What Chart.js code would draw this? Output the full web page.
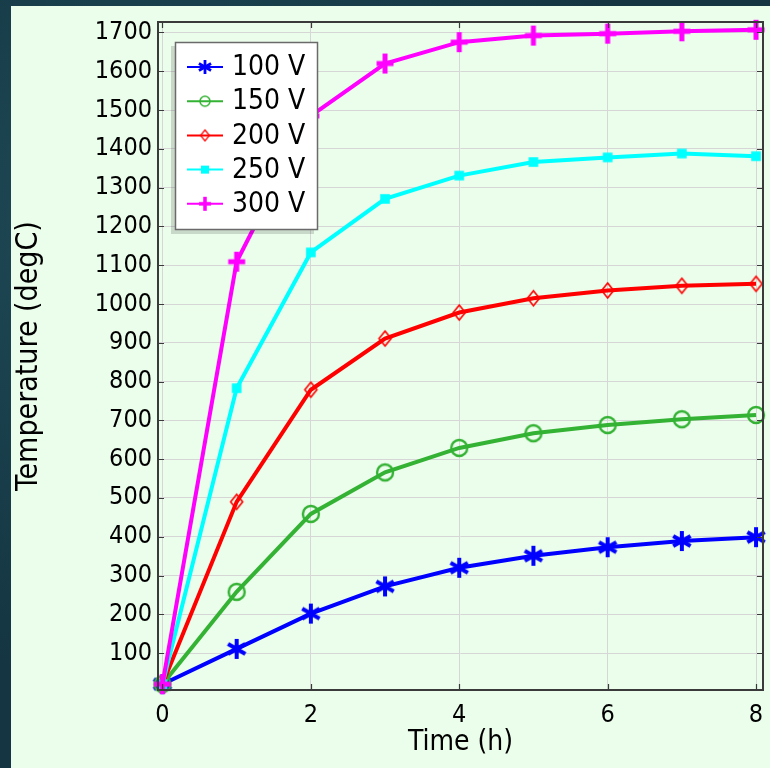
<!DOCTYPE html>
<html>
<head>
<meta charset="utf-8">
<script src="https://cdn.jsdelivr.net/npm/chart.js@4/dist/chart.umd.min.js"></script>
<style>
  html, body { margin:0; padding:0; width:770px; height:768px; overflow:hidden; }
  body {
    background:
      radial-gradient(ellipse at 20% 30%, rgba(40,90,105,0.55), rgba(0,0,0,0) 60%),
      radial-gradient(ellipse at 80% 80%, rgba(30,75,90,0.5), rgba(0,0,0,0) 55%),
      #143541;
    position: relative;
  }
  #wrap { position:absolute; left:11px; top:6px; width:759px; height:762px; background:#ebfdeb; }
  canvas { display:block; }
</style>
</head>
<body>
<div id="wrap"><canvas id="c" width="759" height="762"></canvas></div>
<script>
// ---- data ----
const times = [0, 1, 2, 3, 4, 5, 6, 7, 8];
const seriesLabels = ['100 V', '150 V', '200 V', '250 V', '300 V'];
const temp100 = [20, 111, 202, 272, 320, 351, 373, 389, 399];
const temp150 = [20, 258, 459, 566, 629, 667, 688, 703, 714];
const temp200 = [20, 490, 779, 911, 978, 1015, 1035, 1047, 1052];
const temp250 = [20, 783, 1133, 1271, 1331, 1366, 1378, 1388, 1381];
const temp300 = [20, 1109, 1485, 1620, 1675, 1692, 1697, 1703, 1707];
const xTickValues = [0, 2, 4, 6, 8];
const yTickValues = [100, 200, 300, 400, 500, 600, 700, 800, 900, 1000, 1100, 1200, 1300, 1400, 1500, 1600, 1700];
const xTitle = 'Time (h)';
const yTitle = 'Temperature (degC)';

const FONT = "'DejaVu Sans Condensed', 'DejaVu Sans', sans-serif";

// ---- marker images ----
function makeMarker(kind, color, r) {
  const pad = 3;
  const s = Math.ceil(2 * r + 2 * pad);
  const cv = document.createElement('canvas');
  cv.width = s; cv.height = s;
  const g = cv.getContext('2d');
  const c = s / 2;
  g.strokeStyle = color; g.fillStyle = color; g.lineCap = 'butt';
  if (kind === 'asterisk') {
    g.lineWidth = Math.max(2, r * 0.4);
    [90, 30, 150].forEach(a => {
      const rad = a * Math.PI / 180;
      g.beginPath();
      g.moveTo(c - r * Math.cos(rad), c - r * Math.sin(rad));
      g.lineTo(c + r * Math.cos(rad), c + r * Math.sin(rad));
      g.stroke();
    });
  } else if (kind === 'circle') {
    g.lineWidth = Math.max(1.5, r * 0.3);
    g.beginPath(); g.arc(c, c, r, 0, Math.PI * 2); g.stroke();
  } else if (kind === 'diamond') {
    g.lineWidth = Math.max(1.2, r * 0.22);
    g.beginPath();
    g.moveTo(c, c - r); g.lineTo(c + r * 0.8, c); g.lineTo(c, c + r); g.lineTo(c - r * 0.8, c); g.closePath();
    g.stroke();
  } else if (kind === 'square') {
    g.fillRect(c - r * 0.8, c - r * 0.8, r * 1.6, r * 1.6);
  } else if (kind === 'plus') {
    g.lineWidth = Math.max(2.5, r * 0.5);
    g.beginPath(); g.moveTo(c, c - r); g.lineTo(c, c + r); g.stroke();
    g.beginPath(); g.moveTo(c - r * 0.85, c); g.lineTo(c + r * 0.85, c); g.stroke();
  }
  return cv;
}

const styles = [
  { color: '#0000ff', kind: 'asterisk', r: 10, lr: 7, data: temp100 },
  { color: '#33b233', kind: 'circle', r: 8, lr: 5, data: temp150 },
  { color: '#ff0000', kind: 'diamond', r: 7.5, lr: 5.5, data: temp200 },
  { color: '#00ffff', kind: 'square', r: 6, lr: 5, data: temp250 },
  { color: '#ff00ff', kind: 'plus', r: 10, lr: 7, data: temp300 }
];
styles.forEach(s => {
  s.img = makeMarker(s.kind, s.color, s.r);
  s.legendImg = makeMarker(s.kind, s.color, s.lr);
});

const datasets = styles.map((s, i) => ({
  label: seriesLabels[i],
  data: times.map((t, j) => ({ x: t, y: s.data[j] })),
  borderColor: s.color,
  backgroundColor: s.color,
  borderWidth: 4,
  pointStyle: s.img,
  pointRadius: s.r,
  pointHoverRadius: s.r,
  tension: 0,
  order: styles.length - i,
  clip: false
}));

// frame + inward ticks
const framePlugin = {
  id: 'frame',
  afterDatasetsDraw(chart) {
    const { ctx, chartArea: a, scales } = chart;
    ctx.save();
    ctx.strokeStyle = '#3a3a3a';
    ctx.lineWidth = 1.2;
    const tl = 6;
    ctx.beginPath();
    xTickValues.forEach(v => {
      const px = Math.round(scales.x.getPixelForValue(v)) + 0.5;
      ctx.moveTo(px, a.bottom); ctx.lineTo(px, a.bottom - tl);
      ctx.moveTo(px, a.top); ctx.lineTo(px, a.top + tl);
    });
    yTickValues.forEach(v => {
      const py = Math.round(scales.y.getPixelForValue(v)) + 0.5;
      ctx.moveTo(a.left, py); ctx.lineTo(a.left + tl, py);
      ctx.moveTo(a.right, py); ctx.lineTo(a.right - tl, py);
    });
    ctx.stroke();
    ctx.lineWidth = 2;
    ctx.strokeRect(a.left, a.top, a.right - a.left, a.bottom - a.top);
    ctx.restore();
  }
};

// legend box inside plot
const legendPlugin = {
  id: 'boxLegend',
  afterDraw(chart) {
    const { ctx } = chart;
    const bx = 164, by = 36, bw = 143, bh = 188;
    ctx.save();
    ctx.fillStyle = 'rgba(0,0,0,0.14)';
    ctx.fillRect(bx - 4, by + 4, bw, bh);
    ctx.fillStyle = '#ffffff';
    ctx.fillRect(bx, by, bw, bh);
    ctx.strokeStyle = '#6a6a6a';
    ctx.lineWidth = 1.5;
    ctx.strokeRect(bx + 0.5, by + 0.5, bw - 1, bh - 1);
    const rowY0 = 61, rowStep = 34.2;
    chart.data.datasets.forEach((ds, i) => {
      const y = rowY0 + i * rowStep;
      const s = styles[i];
      ctx.strokeStyle = s.color;
      ctx.lineWidth = 2;
      ctx.beginPath(); ctx.moveTo(176, y); ctx.lineTo(212, y); ctx.stroke();
      const im = s.legendImg;
      ctx.drawImage(im, 194 - im.width / 2, y - im.height / 2);
      ctx.fillStyle = '#000';
      ctx.font = '28px ' + FONT;
      ctx.textBaseline = 'middle';
      ctx.textAlign = 'left';
      ctx.fillText(ds.label, 221, y + 1);
    });
    ctx.restore();
  }
};

new Chart(document.getElementById('c'), {
  type: 'line',
  data: { datasets },
  plugins: [framePlugin, legendPlugin],
  options: {
    responsive: false,
    animation: false,
    events: [],
    layout: { autoPadding: false, padding: { left: 0, top: 16, right: 7, bottom: 0 } },
    plugins: { legend: { display: false }, tooltip: { enabled: false } },
    scales: {
      x: {
        type: 'linear',
        min: -0.06, max: 8.094,
        afterBuildTicks(scale) { scale.ticks = xTickValues.map(v => ({ value: v })); },
        afterFit(scale) { scale.height = 78; scale.paddingLeft = 0; scale.paddingRight = 0; },
        grid: { color: '#d6d6d6', lineWidth: 1, drawTicks: false },
        border: { display: false },
        ticks: { color: '#000', font: { family: FONT, size: 25 }, padding: 10, maxRotation: 0, autoSkip: false,
                 callback: v => String(v) },
        title: { display: true, text: xTitle, color: '#000', font: { family: FONT, size: 28 }, padding: { top: 0, bottom: 8 } }
      },
      y: {
        type: 'linear',
        min: 5, max: 1727,
        afterBuildTicks(scale) { scale.ticks = yTickValues.map(v => ({ value: v })); },
        afterFit(scale) { scale.width = 147; scale.paddingTop = 0; scale.paddingBottom = 0; },
        grid: { color: '#d6d6d6', lineWidth: 1, drawTicks: false },
        border: { display: false },
        ticks: { color: '#000', font: { family: FONT, size: 25 }, padding: 6, autoSkip: false,
                 callback: v => String(v) },
        title: { display: true, text: yTitle, color: '#000', font: { family: FONT, size: 30 }, padding: { top: 0, bottom: 0 } }
      }
    }
  }
});
</script>
</body>
</html>
